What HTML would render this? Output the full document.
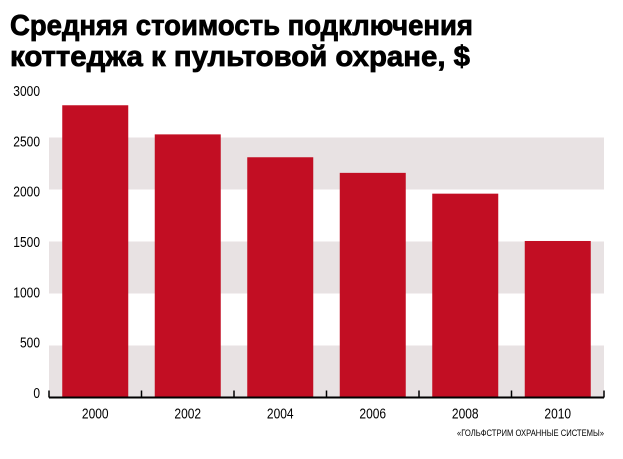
<!DOCTYPE html>
<html><head><meta charset="utf-8"><style>
body{margin:0;background:#fff;width:623px;height:454px;overflow:hidden}
svg text{font-family:"Liberation Sans",sans-serif}
</style></head><body>
<svg id="c" width="623" height="454">
<g fill="#000" stroke="#000" stroke-width="0.8">
<text x="10" y="35" font-size="29" font-weight="bold" textLength="463" lengthAdjust="spacingAndGlyphs">Средняя стоимость подключения</text>
<text x="10" y="66" font-size="29" font-weight="bold" textLength="460" lengthAdjust="spacingAndGlyphs">коттеджа к пультовой охране, $</text>
</g>
<g id="bands"></g><g id="bars"></g><g id="axis"></g>
<text x="457" y="436" font-size="9" textLength="147" lengthAdjust="spacingAndGlyphs" fill="#000">«ГОЛЬФСТРИМ ОХРАННЫЕ СИСТЕМЫ»</text>
</svg>
<script>
const categories=["2000","2002","2004","2006","2008","2010"];
const values=[2810,2530,2310,2160,1960,1505];
const yTicks=[0,500,1000,1500,2000,2500,3000];
const NS="http://www.w3.org/2000/svg";
const x0=49,x1=604,yZero=397.5,pxPer=0.104;
const y=v=>yZero-v*pxPer;
const yLab=v=>yZero-4.5-v*0.1007;
const bw=(x1-x0)/categories.length;
function mk(tag,attrs,parent,txt){const e=document.createElementNS(NS,tag);for(const k in attrs)e.setAttribute(k,attrs[k]);if(txt!=null)e.textContent=txt;document.getElementById(parent).appendChild(e);return e;}
yTicks.forEach((t,i)=>{
  if(i<yTicks.length-1&&i%2===0){const r=mk('rect',{x:x0,y:y(yTicks[i+1]),width:x1-x0,height:y(t)-y(yTicks[i+1]),fill:'#e8e2e3'},'bands');
  
  }
  const l=mk('text',{x:0,y:0,'font-size':15,'text-anchor':'end',transform:`translate(40,${yLab(t)+5}) scale(0.8,1)`},'axis',t);
  
  
});
categories.forEach((c,i)=>{
  const cx=x0+bw*(i+0.5);
  const b=mk('rect',{x:cx-33,y:y(values[i]),width:66,height:yZero-y(values[i]),fill:'#c20e23'},'bars');
  
  
  const l=mk('text',{x:0,y:0,'font-size':15,'text-anchor':'middle',transform:`translate(${cx},${yZero+21}) scale(0.8,1)`},'axis',c);
  
  
});
const ax=mk('line',{x1:x0,x2:x1,y1:yZero,y2:yZero,stroke:'#000','stroke-width':2},'axis');


for(let i=0;i<=categories.length;i++){
  const tx=x0+bw*i;
  const tk=mk('line',{x1:tx,x2:tx,y1:yZero-7,y2:yZero,stroke:'#000','stroke-width':1.5},'axis');
  
  
}
</script>
</body></html>
